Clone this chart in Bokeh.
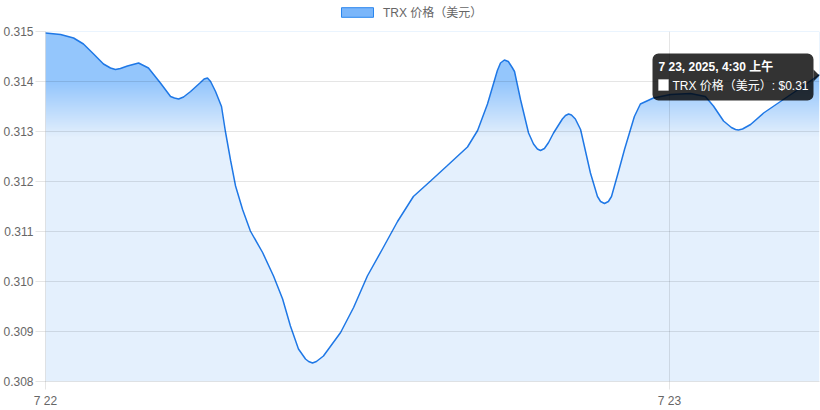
import numpy as np
from bokeh.plotting import figure
from bokeh.layouts import column
from bokeh.models import (Range1d, FixedTicker, Legend, LegendItem,
                          BoxAnnotation, Label)
from bokeh.embed import file_html
from bokeh.resources import INLINE

# ---- data (hours since 2025-07-22 00:00, TRX price in USD) ----
hours = [0.0, 0.58, 1.08, 1.46, 1.85, 2.23, 2.5, 2.69, 2.88, 3.15, 3.58, 3.96,
         4.42, 4.81, 4.96, 5.12, 5.31, 5.58, 5.96, 6.1, 6.23, 6.35, 6.54, 6.77,
         6.92, 7.12, 7.31, 7.58, 7.88, 8.35, 8.77, 9.12, 9.42, 9.73, 10.0, 10.12,
         10.27, 10.42, 10.69, 11.35, 11.85, 12.38, 12.96, 13.54, 14.15, 14.81,
         15.46, 16.23, 16.62, 17.0, 17.38, 17.5, 17.65, 17.8, 17.95, 18.04, 18.27,
         18.58, 18.77, 18.92, 19.04, 19.19, 19.35, 19.54, 19.88, 20.0, 20.12,
         20.23, 20.38, 20.58, 20.96, 21.23, 21.35, 21.5, 21.65, 21.77, 22.04,
         22.27, 22.65, 22.88, 23.38, 24.04, 24.81, 25.38, 25.69, 26.08, 26.38,
         26.54, 26.65, 26.81, 27.12, 27.62, 28.38, 29.04, 29.77]
price = [0.31497, 0.31494, 0.31487, 0.31475, 0.31455, 0.31435, 0.31427, 0.31424,
         0.31426, 0.31431, 0.31437, 0.31427, 0.31397, 0.31370, 0.31367, 0.31365,
         0.31369, 0.31380, 0.31398, 0.31405, 0.31407, 0.31400, 0.31380, 0.31350,
         0.31300, 0.31242, 0.31191, 0.31144, 0.31101, 0.31058, 0.31011, 0.30965,
         0.30911, 0.30865, 0.30845, 0.30840, 0.30837, 0.30840, 0.30851, 0.30898,
         0.30948, 0.31011, 0.31065, 0.31120, 0.31170, 0.31201, 0.31232, 0.31269,
         0.31302, 0.31355, 0.31422, 0.31437, 0.31443, 0.31440, 0.31428, 0.31420,
         0.31364, 0.31297, 0.31275, 0.31265, 0.31262, 0.31266, 0.31278, 0.31297,
         0.31325, 0.31332, 0.31335, 0.31333, 0.31325, 0.31304, 0.31217, 0.31170,
         0.31160, 0.31156, 0.31160, 0.31170, 0.31220, 0.31264, 0.31330, 0.31355,
         0.31367, 0.31374, 0.31376, 0.31370, 0.31351, 0.31321, 0.31308, 0.31304,
         0.31303, 0.31305, 0.31314, 0.31337, 0.31364, 0.31387, 0.31414]

x_ticks = [0, 24]
x_tick_labels = ["7 22", "7 23"]
y_ticks = [0.308, 0.309, 0.310, 0.311, 0.312, 0.313, 0.314, 0.315]
y_tick_labels = ["0.308", "0.309", "0.310", "0.311", "0.312", "0.313", "0.314", "0.315"]
series_name = "TRX 价格（美元）"
tooltip_title = "7 23, 2025, 4:30 上午"
tooltip_value = "$0.31"

FONT = "Liberation Sans, Noto Sans CJK SC"
GRID = "rgba(0,0,0,0.1)"
LINE = "#1f78e6"

x0, x1 = hours[0], hours[-1]
y0, y1 = y_ticks[0], y_ticks[-1]

FW, FH = 774, 350
p = figure(width=820, height=387, output_backend="svg", toolbar_location=None,
           x_range=Range1d(x0, x1), y_range=Range1d(y0, y1),
           min_border_left=45, min_border_right=1, min_border_top=8,
           min_border_bottom=29)
p.outline_line_color = None
p.background_fill_color = "white"
p.border_fill_color = "white"

# ---- gradient fill below the curve ----
N = 350
rows = np.linspace(y0, y1, N)
top_c = np.array([148, 198, 252])
low_c = np.array([228, 240, 253])
f = np.clip((rows - 0.31290) / (0.31400 - 0.31290), 0, 1)
cols = low_c[None, :] * (1 - f[:, None]) + top_c[None, :] * f[:, None]
img = np.empty((N, 1), dtype=np.uint32)
view = img.view(dtype=np.uint8).reshape((N, 1, 4))
view[:, 0, 0] = cols[:, 0]
view[:, 0, 1] = cols[:, 1]
view[:, 0, 2] = cols[:, 2]
view[:, 0, 3] = 255
gr = p.image_rgba(image=[img], x=x0, y=y0, dw=x1 - x0, dh=y1 - y0)
gr.level = "image"
mask = p.varea(x=hours, y1=price, y2=[y1] * len(hours), fill_color="white")
mask.level = "underlay"

line = p.line(hours, price, line_color=LINE, line_width=1.5)

# ---- grid / axes ----
for g in (p.xgrid, p.ygrid):
    g.grid_line_color = GRID
    g.level = "glyph"
p.xgrid.ticker = FixedTicker(ticks=x_ticks)
p.ygrid.ticker = FixedTicker(ticks=y_ticks)

p.xaxis.ticker = FixedTicker(ticks=x_ticks)
p.xaxis.major_label_overrides = dict(zip(x_ticks, x_tick_labels))
p.yaxis.ticker = FixedTicker(ticks=y_ticks)
p.yaxis.major_label_overrides = dict(zip(y_ticks, y_tick_labels))
for ax in (p.xaxis[0], p.yaxis[0]):
    ax.axis_line_color = GRID
    ax.major_tick_line_color = GRID
    ax.minor_tick_line_color = None
    ax.major_tick_in = 0
    ax.major_label_text_font = FONT
    ax.major_label_text_font_size = "12px"
    ax.major_label_text_color = "#666666"
p.xaxis.major_tick_out = 8
p.xaxis.major_label_standoff = 4
p.yaxis.major_tick_out = 10
p.yaxis.major_label_standoff = 2

# ---- legend strip above the chart (frame aligned with the chart) ----
lg = figure(width=820, height=23, output_backend="svg", toolbar_location=None,
            x_axis_location=None, y_axis_location=None,
            x_range=Range1d(0, 1), y_range=Range1d(0, 1),
            min_border=0)
lg.outline_line_color = None
lg.xgrid.visible = False
lg.ygrid.visible = False
nan = float("nan")
swatch = lg.quad(left=[nan], right=[nan], top=[nan], bottom=[nan],
                 fill_color="#7ab6fa", line_color="#2a86ee", line_width=1)
legend = Legend(items=[LegendItem(label=series_name, renderers=[swatch])],
                location=(292, 3), orientation="horizontal",
                glyph_width=40, glyph_height=12, label_height=12,
                label_standoff=6, padding=0, margin=0,
                label_text_font=FONT, label_text_font_size="12px",
                label_text_color="#666666", label_text_baseline="middle",
                border_line_color=None, background_fill_alpha=0)
lg.add_layout(legend, "center")

# ---- static tooltip at the last point ----
ppx = FW / (x1 - x0)
ppy = FH / (y1 - y0)
tx, ty = hours[-1], price[-1]
def dx(px):
    return px / ppx
def dy(px):
    return px / ppy

bl, br = tx - dx(167), tx - dx(6)
bt, bb = ty + dy(21), ty - dy(26)
box = BoxAnnotation(left=bl, right=br, top=bt, bottom=bb,
                    fill_color="black", fill_alpha=0.8, line_color=None,
                    border_radius=6, level="annotation")
p.add_layout(box)
caret = p.patch(x=[tx, br, br], y=[ty - dy(1), ty + dy(5), ty - dy(7)],
                fill_color="black", fill_alpha=0.8, line_color=None)
caret.level = "annotation"

p.add_layout(Label(x=bl + dx(6), y=ty + dy(8), text=tooltip_title,
                   text_color="white", text_font=FONT, text_font_size="12px",
                   text_font_style="bold", text_baseline="middle"))
sq = BoxAnnotation(left=bl + dx(6), right=bl + dx(16), top=ty - dy(5),
                   bottom=ty - dy(16), fill_color="white", fill_alpha=1,
                   line_color="white", level="annotation")
p.add_layout(sq)
p.add_layout(Label(x=bl + dx(20), y=ty - dy(11),
                   text=series_name + ": " + tooltip_value,
                   text_color="white", text_font=FONT, text_font_size="12px",
                   text_baseline="middle"))

layout = column(lg, p, spacing=0)
open("out.html", "w").write(file_html(layout, INLINE))
